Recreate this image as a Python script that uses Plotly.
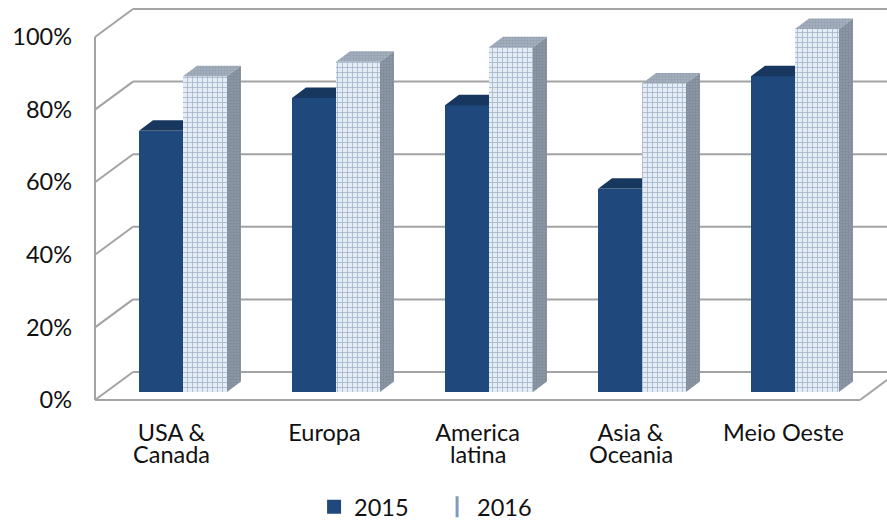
import plotly.graph_objects as go

categories_line1 = ["USA &", "Europa", "America", "Asia &", "Meio Oeste"]
categories_line2 = ["Canada", "", "latina", "Oceania", ""]
series_2015 = [0.72, 0.81, 0.79, 0.56, 0.87]
series_2016 = [0.87, 0.91, 0.95, 0.85, 1.00]
y_ticks = [0, 0.2, 0.4, 0.6, 0.8, 1.0]
y_labels = ["0%", "20%", "40%", "60%", "80%", "100%"]

# style: pseudo-3D offsets expressed in axis units
PX_X, PX_Y = 153.0, 363.0
BW = 44 / PX_X
OFF = (139 - 95) / PX_X - 0.5
BASE = 8 / PX_Y
DX, DY = 14 / PX_X, 10.5 / PX_Y
WALL_DX, WALL_DY = 38 / PX_X, 28 / PX_Y
GRID = "#a3a3a3"
FONT = "Lato, 'Open Sans', sans-serif"
FS = 23.5
xs = list(range(len(series_2015)))
x_front_end = -0.5 + len(xs)
x_right = -0.5 + (887 - 95) / PX_X

fig = go.Figure()
fig.add_bar(x=xs, y=series_2015, base=BASE, offset=OFF, width=BW,
            marker=dict(color="#1f497d", line_width=0), showlegend=False)
fig.add_bar(x=xs, y=series_2016, base=BASE, offset=OFF + BW, width=BW,
            marker=dict(color="#e4ecf5", line_width=0,
                        pattern=dict(shape="+", fgcolor="#64809f", bgcolor="#e4ecf5", size=5, solidity=0.3)),
            showlegend=False)

def poly(px, py, color, pattern=None):
    fig.add_scatter(x=px, y=py, mode="lines", line=dict(width=0), fill="toself", fillcolor=color,
                    fillpattern=pattern, hoverinfo="skip", showlegend=False)

for i, (a, b) in enumerate(zip(series_2015, series_2016)):
    x0 = i + OFF
    x1 = x0 + BW
    x2 = x1 + BW
    ta = a + BASE
    tb = b + BASE
    poly([x0, x1, x1, x0 + DX, x0], [ta, ta, ta + DY, ta + DY, ta], "#17375e")
    poly([x1, x2, x2 + DX, x1 + DX, x1], [tb, tb, tb + DY, tb + DY, tb], "#95a2b3",
         dict(shape="+", fgcolor="#7d8a9c", bgcolor="#a3aebd", size=3, solidity=0.3))
    poly([x2, x2 + DX, x2 + DX, x2, x2], [BASE, BASE + DY, tb + DY, tb, BASE], "#7f8b9b",
         dict(shape="+", fgcolor="#6d7888", bgcolor="#8b96a5", size=3, solidity=0.3))

fig.add_scatter(x=[None], y=[None], mode="markers", name="2015",
                marker=dict(symbol="square", size=14, color="#1f497d"))
fig.add_scatter(x=[None], y=[None], mode="markers", name="2016",
                marker=dict(symbol="line-ns", size=15, color="#7f9ac0", line=dict(width=3, color="#7f9ac0")))

def seg(x0, y0, x1, y1, w=2):
    return dict(type="line", xref="x", yref="y", x0=x0, y0=y0, x1=x1, y1=y1, layer="below",
                line=dict(color=GRID, width=w))

shapes = []
for t in y_ticks:
    shapes.append(seg(-0.5, t, -0.5 + WALL_DX, t + WALL_DY))
    shapes.append(seg(-0.5 + WALL_DX, t + WALL_DY, x_right, t + WALL_DY))
shapes.append(seg(-0.5, 0, -0.5, 1.0))
shapes.append(seg(-0.5, 0, x_front_end, 0))
shapes.append(seg(x_front_end, 0, x_front_end + WALL_DX, WALL_DY))

annotations = [dict(x=i, y=-0.146, xref="x", yref="paper", text=t, showarrow=False,
                    font=dict(family=FONT, size=FS, color="#111111"))
               for i, t in enumerate(categories_line2) if t]

fig.update_layout(
    width=887, height=521, autosize=False,
    margin=dict(l=85, r=0, t=0, b=111),
    paper_bgcolor="white", plot_bgcolor="white",
    barmode="overlay", bargap=0,
    font=dict(family=FONT, size=FS, color="#111111"),
    shapes=shapes, annotations=annotations,
    xaxis=dict(range=[-0.5 - 10 / PX_X, x_right], tickmode="array", tickvals=xs, ticktext=categories_line1,
               showgrid=False, zeroline=False, showline=False, ticks="", ticklabelstandoff=6, automargin=False),
    yaxis=dict(range=[-10 / PX_Y, 400 / PX_Y], tickmode="array", tickvals=y_ticks, ticktext=y_labels,
               showgrid=False, zeroline=False, showline=False, ticks="", ticklabelstandoff=12, automargin=False),
    legend=dict(orientation="h", x=0.439, xref="paper", xanchor="center", y=0.0269, yref="container", yanchor="middle",
                font=dict(family=FONT, size=FS), bgcolor="rgba(0,0,0,0)", entrywidth=78),
    hovermode=False,
)
fig.write_html("out.html", config=dict(displayModeBar=False),
               post_script="document.body.style.margin='0';document.documentElement.style.overflow='hidden';")
